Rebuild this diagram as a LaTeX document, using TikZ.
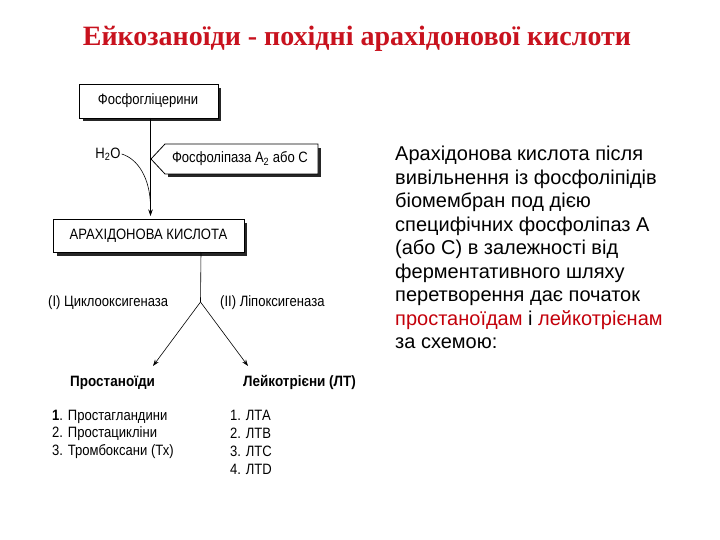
\documentclass[tikz,border=0pt]{standalone}
\usepackage{fontspec}
\setmainfont{Liberation Sans}
\newfontfamily\titlefont{Liberation Serif}
\usetikzlibrary{arrows.meta,positioning}
\definecolor{titlered}{RGB}{200,18,30}
\definecolor{textred}{RGB}{195,0,10}
\newcommand{\nrw}[1]{\scalebox{0.87}[1]{#1}}
\newcommand{\nrwb}[1]{\scalebox{0.9}[1]{#1}}
\tikzset{
  dia/.style={font=\fontsize{15}{17}\selectfont, inner sep=0pt, anchor=base west},
  diab/.style={font=\fontsize{15}{17}\selectfont\bfseries, inner sep=0pt, anchor=base west},
  boxtext/.style={font=\fontsize{15}{17}\selectfont, inner sep=0pt},
  arr/.style={-{Stealth[length=6.5pt,width=4.5pt]}, line width=0.6pt},
  ln/.style={line width=0.6pt},
  shadow/.style={fill=black!85},
  frame/.style={fill=white, line width=0.8pt},
}
\begin{document}
\begin{tikzpicture}[x=1pt,y=-1pt]
\useasboundingbox (0,0) rectangle (720,540);
% title
\node[font=\titlefont\fontsize{28}{32}\selectfont\bfseries, text=titlered, anchor=base, inner sep=0pt] (title) at (357,46) {Ейкозаноїди - похідні арахідонової кислоти};

% box 1
\fill[shadow] (83,88) rectangle (221,121);
\draw[frame] (79,84) rectangle (218,118);
\node[boxtext] (b1) at (148,101) {\nrw{Фосфогліцерини}};
\coordinate (b1s) at (150.5,118);

% box 2
\fill[shadow] (57,223) rectangle (247,256);
\draw[frame] (53,219) rectangle (244,252);
\node[boxtext] (b2) at (148.5,236) {\nrw{АРАХІДОНОВА КИСЛОТА}};
\coordinate (b2n) at (150.5,219);
\coordinate (b2s) at (201,252);

% phospholipase callout
\fill[shadow] (168,148) -- (321,148) -- (321,177) -- (168,177) -- cycle;
\draw[frame] (151,159) -- (165,144) -- (318,144) -- (318,174) -- (165,174) -- cycle;
\node[boxtext] (pl) at (240,159) {\nrw{Фосфоліпаза A\textsubscript{2} або C}};

% H2O
\node[font=\fontsize{15}{17}\selectfont, inner sep=1pt] (h2o) at (108,154) {\nrw{H\textsubscript{2}O}};

% vertical arrow
\draw[arr, shorten >=3pt] (b1s) -- (b2n);
% curved line from H2O merging into the arrow
\coordinate (merge) at (150.5,206);
\draw[ln] (h2o.east) .. controls (138,159) and (150,178) .. (merge);

% branches
\coordinate (split) at (200.5,302);
\coordinate (lend) at (153,366);
\coordinate (rend) at (248,366);
\draw[ln] (b2s) -- (split);
\draw[arr] (split) -- (lend);
\draw[arr] (split) -- (rend);

\node[dia] (cox) at (48,306) {\nrw{(I) Циклооксигеназа}};
\node[dia] (lox) at (220,306) {\nrw{(II) Ліпоксигеназа}};

\node[diab] (pros) at (70,386) {\nrwb{Простаноїди}};
\node[diab] (leuk) at (243,386) {\nrwb{Лейкотрієни (ЛТ)}};

\node[dia] (p1) at (52,420) {\nrw{\textbf{1}. Простагландини}};
\node[dia] (p2) at (52,437.5) {\nrw{2. Простацикліни}};
\node[dia] (p3) at (52,455) {\nrw{3. Тромбоксани (Тх)}};

\node[dia] (l1) at (230,420) {\nrw{1. ЛТА}};
\node[dia] (l2) at (230,438) {\nrw{2. ЛТВ}};
\node[dia] (l3) at (230,456) {\nrw{3. ЛТС}};
\node[dia] (l4) at (230,474) {\nrw{4. ЛТD}};

% paragraph
\node[anchor=north west, inner sep=0pt, align=left, font=\fontsize{20}{23.5}\selectfont] (para) at (395,146) {Арахідонова кислота після\\
вивільнення із фосфоліпідів\\
біомембран под дією\\
специфічних фосфоліпаз А\\
(або С) в залежності від\\
ферментативного шляху\\
перетворення дає початок\\
\textcolor{textred}{простаноїдам} і \textcolor{textred}{лейкотрієнам}\\
за схемою:};
\end{tikzpicture}
\end{document}
